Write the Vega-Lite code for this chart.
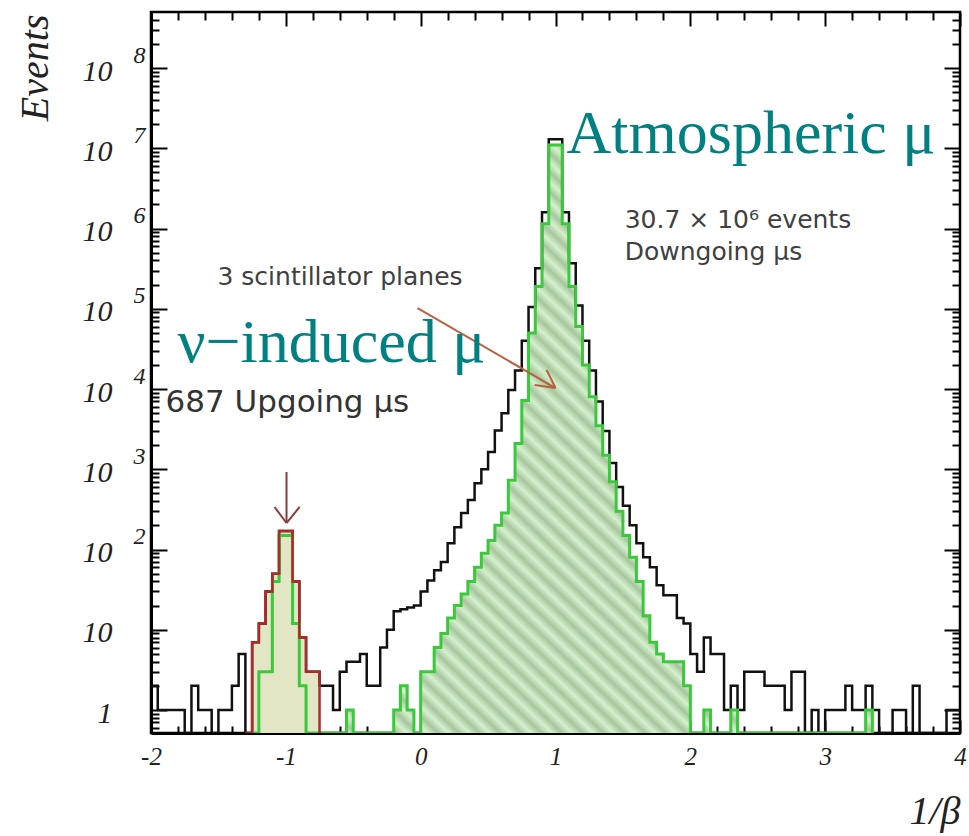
{
  "$schema": "https://vega.github.io/schema/vega-lite/v6.json",
  "width": 809,
  "height": 721,
  "autosize": {"type": "none"},
  "padding": {"left": 151, "top": 12, "right": 9, "bottom": 103},
  "background": "white",
  "config": {
    "view": {"stroke": "#000", "strokeWidth": 2.5},
    "axis": {"labelFont": "Liberation Serif", "labelFontStyle": "italic", "labelColor": "#222", "tickColor": "#000", "tickWidth": 2, "domain": false, "grid": false, "zindex": 1, "labelOverlap": false, "labelFlush": false, "labelBound": false}
  },
  "datasets": {
    "all": [
      {"x": -2, "n": 2}, {"x": -1.95, "n": 1}, {"x": -1.9, "n": 1}, {"x": -1.85, "n": 1}, {"x": -1.8, "n": 1},
      {"x": -1.75, "n": 0}, {"x": -1.7, "n": 2}, {"x": -1.65, "n": 1}, {"x": -1.6, "n": 1}, {"x": -1.55, "n": 0},
      {"x": -1.5, "n": 1}, {"x": -1.45, "n": 1}, {"x": -1.4, "n": 2}, {"x": -1.35, "n": 5}, {"x": -1.3, "n": 0},
      {"x": -1.25, "n": 7}, {"x": -1.2, "n": 12}, {"x": -1.15, "n": 30}, {"x": -1.1, "n": 50}, {"x": -1.05, "n": 170},
      {"x": -1, "n": 170}, {"x": -0.95, "n": 40}, {"x": -0.9, "n": 8}, {"x": -0.85, "n": 3}, {"x": -0.8, "n": 3},
      {"x": -0.75, "n": 2}, {"x": -0.7, "n": 2}, {"x": -0.65, "n": 1}, {"x": -0.6, "n": 3}, {"x": -0.55, "n": 4},
      {"x": -0.5, "n": 4}, {"x": -0.45, "n": 5}, {"x": -0.4, "n": 2}, {"x": -0.35, "n": 2}, {"x": -0.3, "n": 6},
      {"x": -0.25, "n": 10}, {"x": -0.2, "n": 17}, {"x": -0.15, "n": 18}, {"x": -0.1, "n": 19}, {"x": -0.05, "n": 20},
      {"x": 0, "n": 30}, {"x": 0.05, "n": 41}, {"x": 0.1, "n": 55}, {"x": 0.15, "n": 70}, {"x": 0.2, "n": 120},
      {"x": 0.25, "n": 190}, {"x": 0.3, "n": 285}, {"x": 0.35, "n": 415}, {"x": 0.4, "n": 670}, {"x": 0.45, "n": 1000},
      {"x": 0.5, "n": 1640}, {"x": 0.55, "n": 3050}, {"x": 0.6, "n": 5000}, {"x": 0.65, "n": 9700}, {"x": 0.7, "n": 17000},
      {"x": 0.75, "n": 40000}, {"x": 0.8, "n": 105000}, {"x": 0.85, "n": 320000}, {"x": 0.9, "n": 1600000}, {"x": 0.95, "n": 13000000},
      {"x": 1, "n": 13000000}, {"x": 1.05, "n": 1600000}, {"x": 1.1, "n": 370000}, {"x": 1.15, "n": 110000}, {"x": 1.2, "n": 40000},
      {"x": 1.25, "n": 17000}, {"x": 1.3, "n": 7000}, {"x": 1.35, "n": 3000}, {"x": 1.4, "n": 1200}, {"x": 1.45, "n": 600},
      {"x": 1.5, "n": 350}, {"x": 1.55, "n": 200}, {"x": 1.6, "n": 120}, {"x": 1.65, "n": 80}, {"x": 1.7, "n": 60},
      {"x": 1.75, "n": 36}, {"x": 1.8, "n": 27}, {"x": 1.85, "n": 27}, {"x": 1.9, "n": 14}, {"x": 1.95, "n": 12},
      {"x": 2, "n": 5}, {"x": 2.05, "n": 3}, {"x": 2.1, "n": 8}, {"x": 2.15, "n": 5}, {"x": 2.2, "n": 5},
      {"x": 2.25, "n": 1}, {"x": 2.3, "n": 2}, {"x": 2.35, "n": 1}, {"x": 2.4, "n": 3}, {"x": 2.45, "n": 3},
      {"x": 2.5, "n": 3}, {"x": 2.55, "n": 2}, {"x": 2.6, "n": 2}, {"x": 2.65, "n": 2}, {"x": 2.7, "n": 1},
      {"x": 2.75, "n": 3}, {"x": 2.8, "n": 3}, {"x": 2.85, "n": 0}, {"x": 2.9, "n": 1}, {"x": 2.95, "n": 0},
      {"x": 3, "n": 1}, {"x": 3.05, "n": 1}, {"x": 3.1, "n": 1}, {"x": 3.15, "n": 2}, {"x": 3.2, "n": 1},
      {"x": 3.25, "n": 1}, {"x": 3.3, "n": 2}, {"x": 3.35, "n": 1}, {"x": 3.4, "n": 0}, {"x": 3.45, "n": 0},
      {"x": 3.5, "n": 1}, {"x": 3.55, "n": 1}, {"x": 3.6, "n": 0}, {"x": 3.65, "n": 2}, {"x": 3.7, "n": 0},
      {"x": 3.75, "n": 0}, {"x": 3.8, "n": 0}, {"x": 3.85, "n": 0}, {"x": 3.9, "n": 1}, {"x": 3.95, "n": 1},
      {"x": 4, "n": 1}
    ],
    "down": [
      {"x": -1.25, "n": 0}, {"x": -1.2, "n": 3}, {"x": -1.15, "n": 3}, {"x": -1.1, "n": 40},
      {"x": -1.05, "n": 150}, {"x": -1, "n": 150}, {"x": -0.95, "n": 12}, {"x": -0.9, "n": 2}, {"x": -0.85, "n": 0},
      {"x": -0.55, "n": 1}, {"x": -0.5, "n": 0},
      {"x": -0.2, "n": 1}, {"x": -0.15, "n": 2}, {"x": -0.1, "n": 1}, {"x": -0.05, "n": 0},
      {"x": 0, "n": 3}, {"x": 0.05, "n": 3}, {"x": 0.1, "n": 6}, {"x": 0.15, "n": 9}, {"x": 0.2, "n": 14},
      {"x": 0.25, "n": 20}, {"x": 0.3, "n": 28}, {"x": 0.35, "n": 40}, {"x": 0.4, "n": 60}, {"x": 0.45, "n": 90},
      {"x": 0.5, "n": 130}, {"x": 0.55, "n": 200}, {"x": 0.6, "n": 285}, {"x": 0.65, "n": 730}, {"x": 0.7, "n": 2100},
      {"x": 0.75, "n": 7200}, {"x": 0.8, "n": 50000}, {"x": 0.85, "n": 190000}, {"x": 0.9, "n": 1150000}, {"x": 0.95, "n": 11000000},
      {"x": 1, "n": 11000000}, {"x": 1.05, "n": 1150000}, {"x": 1.1, "n": 190000}, {"x": 1.15, "n": 60000}, {"x": 1.2, "n": 20000},
      {"x": 1.25, "n": 8000}, {"x": 1.3, "n": 3500}, {"x": 1.35, "n": 1500}, {"x": 1.4, "n": 700}, {"x": 1.45, "n": 300},
      {"x": 1.5, "n": 150}, {"x": 1.55, "n": 80}, {"x": 1.6, "n": 40}, {"x": 1.65, "n": 15}, {"x": 1.7, "n": 7},
      {"x": 1.75, "n": 5}, {"x": 1.8, "n": 4}, {"x": 1.85, "n": 4}, {"x": 1.9, "n": 4}, {"x": 1.95, "n": 2},
      {"x": 2, "n": 0}, {"x": 2.1, "n": 1}, {"x": 2.15, "n": 0}, {"x": 2.3, "n": 1}, {"x": 2.35, "n": 0},
      {"x": 3.3, "n": 1}, {"x": 3.35, "n": 0}
    ],
    "up": [
      {"x": -1.3, "n": 0}, {"x": -1.25, "n": 7}, {"x": -1.2, "n": 12}, {"x": -1.15, "n": 30}, {"x": -1.1, "n": 50},
      {"x": -1.05, "n": 170}, {"x": -1, "n": 170}, {"x": -0.95, "n": 40}, {"x": -0.9, "n": 8}, {"x": -0.85, "n": 3},
      {"x": -0.8, "n": 3}, {"x": -0.75, "n": 0}
    ],
    "arrows": [
      {"a": "planes", "x": -0.023, "y": 102000, "x2": 1.0, "y2": 10300},
      {"a": "planes", "x": 0.934, "y": 17300, "x2": 1.0, "y2": 10300},
      {"a": "planes", "x": 0.845, "y": 11200, "x2": 1.0, "y2": 10300},
      {"a": "up", "x": -0.995, "y": 924, "x2": -0.995, "y2": 214},
      {"a": "up", "x": -1.084, "y": 339, "x2": -0.995, "y2": 214},
      {"a": "up", "x": -0.898, "y": 339, "x2": -0.995, "y2": 214}
    ],
    "notes": [
      {"k": "teal", "x": 1.082, "y": 8700000, "t": "Atmospheric μ"},
      {"k": "teal", "x": -1.803, "y": 21700, "t": "ν−induced μ"},
      {"k": "small", "x": -1.507, "y": 198000, "t": "3 scintillator planes"},
      {"k": "small", "x": 1.513, "y": 1010000, "t": "30.7 × 10⁶ events"},
      {"k": "small", "x": 1.513, "y": 405000, "t": "Downgoing μs"},
      {"k": "big", "x": -1.892, "y": 5170, "t": "687 Upgoing μs"}
    ]
  },
  "resolve": {"axis": {"x": "independent", "y": "independent"}},
  "layer": [
    {
      "data": {"name": "down"},
      "mark": {"type": "area", "interpolate": "step-after", "clip": true,
        "fill": {"gradient": "linear", "x1": 0, "y1": 1, "x2": 1, "y2": 0, "stops": [
          {"offset": 0, "color": "#a6c69e"}, {"offset": 0.0083, "color": "#d4f0cc"}, {"offset": 0.0167, "color": "#a6c69e"}, {"offset": 0.025, "color": "#d4f0cc"},
          {"offset": 0.0333, "color": "#a6c69e"}, {"offset": 0.0417, "color": "#d4f0cc"}, {"offset": 0.05, "color": "#a6c69e"}, {"offset": 0.0583, "color": "#d4f0cc"},
          {"offset": 0.0667, "color": "#a6c69e"}, {"offset": 0.075, "color": "#d4f0cc"}, {"offset": 0.0833, "color": "#a6c69e"}, {"offset": 0.0917, "color": "#d4f0cc"},
          {"offset": 0.1, "color": "#a6c69e"}, {"offset": 0.1083, "color": "#d4f0cc"}, {"offset": 0.1167, "color": "#a6c69e"}, {"offset": 0.125, "color": "#d4f0cc"},
          {"offset": 0.1333, "color": "#a6c69e"}, {"offset": 0.1417, "color": "#d4f0cc"}, {"offset": 0.15, "color": "#a6c69e"}, {"offset": 0.1583, "color": "#d4f0cc"},
          {"offset": 0.1667, "color": "#a6c69e"}, {"offset": 0.175, "color": "#d4f0cc"}, {"offset": 0.1833, "color": "#a6c69e"}, {"offset": 0.1917, "color": "#d4f0cc"},
          {"offset": 0.2, "color": "#a6c69e"}, {"offset": 0.2083, "color": "#d4f0cc"}, {"offset": 0.2167, "color": "#a6c69e"}, {"offset": 0.225, "color": "#d4f0cc"},
          {"offset": 0.2333, "color": "#a6c69e"}, {"offset": 0.2417, "color": "#d4f0cc"}, {"offset": 0.25, "color": "#a6c69e"}, {"offset": 0.2583, "color": "#d4f0cc"},
          {"offset": 0.2667, "color": "#a6c69e"}, {"offset": 0.275, "color": "#d4f0cc"}, {"offset": 0.2833, "color": "#a6c69e"}, {"offset": 0.2917, "color": "#d4f0cc"},
          {"offset": 0.3, "color": "#a6c69e"}, {"offset": 0.3083, "color": "#d4f0cc"}, {"offset": 0.3167, "color": "#a6c69e"}, {"offset": 0.325, "color": "#d4f0cc"},
          {"offset": 0.3333, "color": "#a6c69e"}, {"offset": 0.3417, "color": "#d4f0cc"}, {"offset": 0.35, "color": "#a6c69e"}, {"offset": 0.3583, "color": "#d4f0cc"},
          {"offset": 0.3667, "color": "#a6c69e"}, {"offset": 0.375, "color": "#d4f0cc"}, {"offset": 0.3833, "color": "#a6c69e"}, {"offset": 0.3917, "color": "#d4f0cc"},
          {"offset": 0.4, "color": "#a6c69e"}, {"offset": 0.4083, "color": "#d4f0cc"}, {"offset": 0.4167, "color": "#a6c69e"}, {"offset": 0.425, "color": "#d4f0cc"},
          {"offset": 0.4333, "color": "#a6c69e"}, {"offset": 0.4417, "color": "#d4f0cc"}, {"offset": 0.45, "color": "#a6c69e"}, {"offset": 0.4583, "color": "#d4f0cc"},
          {"offset": 0.4667, "color": "#a6c69e"}, {"offset": 0.475, "color": "#d4f0cc"}, {"offset": 0.4833, "color": "#a6c69e"}, {"offset": 0.4917, "color": "#d4f0cc"},
          {"offset": 0.5, "color": "#a6c69e"}, {"offset": 0.5083, "color": "#d4f0cc"}, {"offset": 0.5167, "color": "#a6c69e"}, {"offset": 0.525, "color": "#d4f0cc"},
          {"offset": 0.5333, "color": "#a6c69e"}, {"offset": 0.5417, "color": "#d4f0cc"}, {"offset": 0.55, "color": "#a6c69e"}, {"offset": 0.5583, "color": "#d4f0cc"},
          {"offset": 0.5667, "color": "#a6c69e"}, {"offset": 0.575, "color": "#d4f0cc"}, {"offset": 0.5833, "color": "#a6c69e"}, {"offset": 0.5917, "color": "#d4f0cc"},
          {"offset": 0.6, "color": "#a6c69e"}, {"offset": 0.6083, "color": "#d4f0cc"}, {"offset": 0.6167, "color": "#a6c69e"}, {"offset": 0.625, "color": "#d4f0cc"},
          {"offset": 0.6333, "color": "#a6c69e"}, {"offset": 0.6417, "color": "#d4f0cc"}, {"offset": 0.65, "color": "#a6c69e"}, {"offset": 0.6583, "color": "#d4f0cc"},
          {"offset": 0.6667, "color": "#a6c69e"}, {"offset": 0.675, "color": "#d4f0cc"}, {"offset": 0.6833, "color": "#a6c69e"}, {"offset": 0.6917, "color": "#d4f0cc"},
          {"offset": 0.7, "color": "#a6c69e"}, {"offset": 0.7083, "color": "#d4f0cc"}, {"offset": 0.7167, "color": "#a6c69e"}, {"offset": 0.725, "color": "#d4f0cc"},
          {"offset": 0.7333, "color": "#a6c69e"}, {"offset": 0.7417, "color": "#d4f0cc"}, {"offset": 0.75, "color": "#a6c69e"}, {"offset": 0.7583, "color": "#d4f0cc"},
          {"offset": 0.7667, "color": "#a6c69e"}, {"offset": 0.775, "color": "#d4f0cc"}, {"offset": 0.7833, "color": "#a6c69e"}, {"offset": 0.7917, "color": "#d4f0cc"},
          {"offset": 0.8, "color": "#a6c69e"}, {"offset": 0.8083, "color": "#d4f0cc"}, {"offset": 0.8167, "color": "#a6c69e"}, {"offset": 0.825, "color": "#d4f0cc"},
          {"offset": 0.8333, "color": "#a6c69e"}, {"offset": 0.8417, "color": "#d4f0cc"}, {"offset": 0.85, "color": "#a6c69e"}, {"offset": 0.8583, "color": "#d4f0cc"},
          {"offset": 0.8667, "color": "#a6c69e"}, {"offset": 0.875, "color": "#d4f0cc"}, {"offset": 0.8833, "color": "#a6c69e"}, {"offset": 0.8917, "color": "#d4f0cc"},
          {"offset": 0.9, "color": "#a6c69e"}, {"offset": 0.9083, "color": "#d4f0cc"}, {"offset": 0.9167, "color": "#a6c69e"}, {"offset": 0.925, "color": "#d4f0cc"},
          {"offset": 0.9333, "color": "#a6c69e"}, {"offset": 0.9417, "color": "#d4f0cc"}, {"offset": 0.95, "color": "#a6c69e"}, {"offset": 0.9583, "color": "#d4f0cc"},
          {"offset": 0.9667, "color": "#a6c69e"}, {"offset": 0.975, "color": "#d4f0cc"}, {"offset": 0.9833, "color": "#a6c69e"}, {"offset": 0.9917, "color": "#d4f0cc"},
          {"offset": 1, "color": "#a6c69e"}
        ]}},
      "encoding": {
        "x": {"field": "x", "type": "quantitative", "scale": {"domain": [-2, 4], "nice": false, "zero": false},
          "axis": {"orient": "bottom", "values": [-2,-1,0,1,2,3,4],
            "labelExpr": "'' + round(datum.value)",
            "labelFontSize": 25, "labelPadding": 24, "tickSize": -13,
            "domain": true, "domainColor": "#000", "domainWidth": 3,
            "title": "1/β", "titleFont": "Liberation Serif", "titleFontStyle": "italic", "titleFontWeight": "normal", "titleFontSize": 40, "titleColor": "#222",
            "titleX": 809, "titleY": 90, "titleAlign": "right", "titleBaseline": "alphabetic", "titleAnchor": "end"}},
        "y": {"field": "n", "type": "quantitative", "scale": {"type": "log", "domain": [0.517, 500000000], "clamp": true},
          "axis": {"orient": "left", "values": [1,10,100,1000,10000,100000,1000000,10000000,100000000],
            "labelExpr": "datum.value == 1 ? '1' : '10'",
            "labelFontSize": 30, "labelPadding": 55, "labelOffset": 3, "tickSize": -16,
            "domain": true, "domainColor": "#000", "domainWidth": 3,
            "title": "Events", "titleFont": "Liberation Serif", "titleFontStyle": "italic", "titleFontWeight": "normal", "titleFontSize": 40, "titleColor": "#222",
            "titleAngle": 270, "titleX": -104, "titleY": 2, "titleAlign": "right", "titleBaseline": "alphabetic", "titleAnchor": "end"}}
      }
    },
    {
      "data": {"name": "up"},
      "mark": {"type": "area", "interpolate": "step-after", "fill": "#e2e6c4", "clip": true},
      "encoding": {
        "x": {"field": "x", "type": "quantitative", "scale": {"domain": [-2, 4], "nice": false, "zero": false},
          "axis": {"orient": "bottom", "values": [-1.8,-1.6,-1.4,-1.2,-0.8,-0.6,-0.4,-0.2,0.2,0.4,0.6,0.8,1.2,1.4,1.6,1.8,2.2,2.4,2.6,2.8,3.2,3.4,3.6,3.8],
            "labels": false, "tickSize": -7, "title": null}},
        "y": {"field": "n", "type": "quantitative", "scale": {"type": "log", "domain": [0.517, 500000000], "clamp": true},
          "axis": {"orient": "left", "values": [0.6,0.7,0.8,0.9,2,3,4,5,6,7,8,9,20,30,40,50,60,70,80,90,200,300,400,500,600,700,800,900,2000,3000,4000,5000,6000,7000,8000,9000,20000,30000,40000,50000,60000,70000,80000,90000,200000,300000,400000,500000,600000,700000,800000,900000,2000000,3000000,4000000,5000000,6000000,7000000,8000000,9000000,20000000,30000000,40000000,50000000,60000000,70000000,80000000,90000000,200000000,300000000,400000000],
            "labels": false, "tickSize": -8, "title": null}}
      }
    },
    {
      "data": {"name": "all"},
      "mark": {"type": "line", "interpolate": "step-after", "color": "#111", "strokeWidth": 2.5, "clip": true},
      "encoding": {
        "x": {"field": "x", "type": "quantitative", "scale": {"domain": [-2, 4], "nice": false, "zero": false},
          "axis": {"orient": "top", "values": [-2,-1,0,1,2,3,4], "labels": false, "tickSize": -14, "title": null}},
        "y": {"field": "n", "type": "quantitative", "scale": {"type": "log", "domain": [0.517, 500000000], "clamp": true},
          "axis": {"orient": "left", "values": [100,1000,10000,100000,1000000,10000000,100000000],
            "labelExpr": "'' + round(log(datum.value)/LN10)", "labelFontSize": 24, "labelPadding": 6, "labelOffset": -13,
            "ticks": false, "title": null}}
      }
    },
    {
      "data": {"name": "down"},
      "mark": {"type": "line", "interpolate": "step-after", "color": "#3cc83c", "strokeWidth": 3, "clip": true},
      "encoding": {
        "x": {"field": "x", "type": "quantitative", "scale": {"domain": [-2, 4], "nice": false, "zero": false},
          "axis": {"orient": "top", "values": [-1.8,-1.6,-1.4,-1.2,-0.8,-0.6,-0.4,-0.2,0.2,0.4,0.6,0.8,1.2,1.4,1.6,1.8,2.2,2.4,2.6,2.8,3.2,3.4,3.6,3.8],
            "labels": false, "tickSize": -8, "title": null}},
        "y": {"field": "n", "type": "quantitative", "scale": {"type": "log", "domain": [0.517, 500000000], "clamp": true},
          "axis": {"orient": "right", "values": [1,10,100,1000,10000,100000,1000000,10000000,100000000],
            "labels": false, "tickSize": -16, "title": null}}
      }
    },
    {
      "data": {"name": "up"},
      "mark": {"type": "line", "interpolate": "step-after", "color": "#b02a2a", "strokeWidth": 2.5, "clip": true},
      "encoding": {
        "x": {"field": "x", "type": "quantitative", "scale": {"domain": [-2, 4], "nice": false, "zero": false}, "axis": null},
        "y": {"field": "n", "type": "quantitative", "scale": {"type": "log", "domain": [0.517, 500000000], "clamp": true},
          "axis": {"orient": "right", "values": [0.6,0.7,0.8,0.9,2,3,4,5,6,7,8,9,20,30,40,50,60,70,80,90,200,300,400,500,600,700,800,900,2000,3000,4000,5000,6000,7000,8000,9000,20000,30000,40000,50000,60000,70000,80000,90000,200000,300000,400000,500000,600000,700000,800000,900000,2000000,3000000,4000000,5000000,6000000,7000000,8000000,9000000,20000000,30000000,40000000,50000000,60000000,70000000,80000000,90000000,200000000,300000000,400000000],
            "labels": false, "tickSize": -8, "title": null}}
      }
    },
    {
      "data": {"name": "arrows"},
      "transform": [{"filter": "datum.a == 'planes'"}],
      "mark": {"type": "rule", "color": "#b8603f", "strokeWidth": 2},
      "encoding": {
        "x": {"field": "x", "type": "quantitative", "scale": {"domain": [-2, 4], "nice": false, "zero": false}, "axis": null},
        "x2": {"field": "x2"},
        "y": {"field": "y", "type": "quantitative", "scale": {"type": "log", "domain": [0.517, 500000000], "clamp": true}, "axis": null},
        "y2": {"field": "y2"}
      }
    },
    {
      "data": {"name": "arrows"},
      "transform": [{"filter": "datum.a == 'up'"}],
      "mark": {"type": "rule", "color": "#8a3b3b", "strokeWidth": 2},
      "encoding": {
        "x": {"field": "x", "type": "quantitative", "scale": {"domain": [-2, 4], "nice": false, "zero": false}, "axis": null},
        "x2": {"field": "x2"},
        "y": {"field": "y", "type": "quantitative", "scale": {"type": "log", "domain": [0.517, 500000000], "clamp": true}, "axis": null},
        "y2": {"field": "y2"}
      }
    },
    {
      "data": {"name": "notes"},
      "transform": [{"filter": "datum.k == 'teal'"}],
      "mark": {"type": "text", "font": "Liberation Serif", "fontSize": 62, "color": "#008080", "align": "left", "baseline": "alphabetic"},
      "encoding": {
        "x": {"field": "x", "type": "quantitative", "scale": {"domain": [-2, 4], "nice": false, "zero": false}, "axis": null},
        "y": {"field": "y", "type": "quantitative", "scale": {"type": "log", "domain": [0.517, 500000000], "clamp": true}, "axis": null},
        "text": {"field": "t"}
      }
    },
    {
      "data": {"name": "notes"},
      "transform": [{"filter": "datum.k == 'small'"}],
      "mark": {"type": "text", "font": "DejaVu Sans", "fontSize": 25, "color": "#404040", "align": "left", "baseline": "alphabetic"},
      "encoding": {
        "x": {"field": "x", "type": "quantitative", "scale": {"domain": [-2, 4], "nice": false, "zero": false}, "axis": null},
        "y": {"field": "y", "type": "quantitative", "scale": {"type": "log", "domain": [0.517, 500000000], "clamp": true}, "axis": null},
        "text": {"field": "t"}
      }
    },
    {
      "data": {"name": "notes"},
      "transform": [{"filter": "datum.k == 'big'"}],
      "mark": {"type": "text", "font": "DejaVu Sans", "fontSize": 31, "color": "#333", "align": "left", "baseline": "alphabetic"},
      "encoding": {
        "x": {"field": "x", "type": "quantitative", "scale": {"domain": [-2, 4], "nice": false, "zero": false}, "axis": null},
        "y": {"field": "y", "type": "quantitative", "scale": {"type": "log", "domain": [0.517, 500000000], "clamp": true}, "axis": null},
        "text": {"field": "t"}
      }
    }
  ]
}
